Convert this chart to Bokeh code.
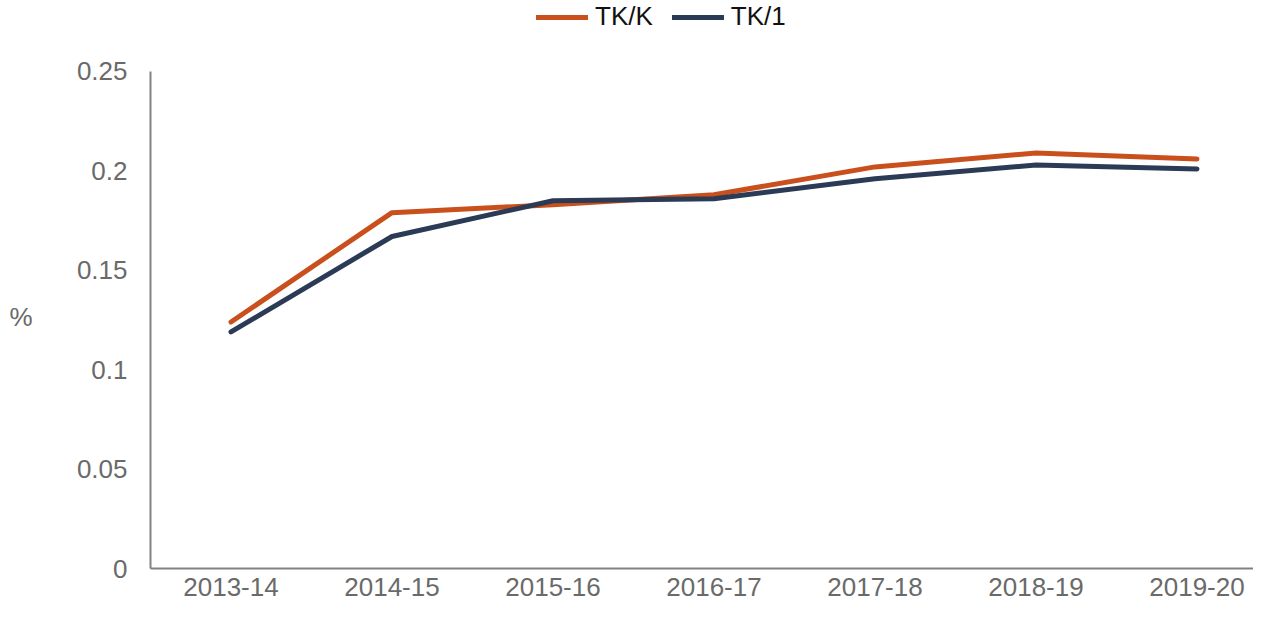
from bokeh.plotting import figure
from bokeh.models import FixedTicker, Legend, LegendItem, LinearAxis
from bokeh.embed import file_html
from bokeh.resources import INLINE

years = ["2013-14", "2014-15", "2015-16", "2016-17", "2017-18", "2018-19", "2019-20"]
tk_k = [0.124, 0.179, 0.183, 0.188, 0.202, 0.209, 0.206]
tk_1 = [0.119, 0.167, 0.185, 0.186, 0.196, 0.203, 0.201]
y_ticks = [0, 0.05, 0.1, 0.15, 0.2, 0.25]
y_tick_labels = ["0", "0.05", "0.1", "0.15", "0.2", "0.25"]
y_unit = "%"

ORANGE = "#C9501C"
NAVY = "#2B3A55"
GREY_TXT = "#6A6A6A"
AXIS = "#828282"
FONT = "Liberation Sans"

xs = list(range(len(years)))

p = figure(width=1253, height=601, output_backend="svg", toolbar_location=None,
           x_range=(-0.5, 6.351), y_range=(0, 0.2857),
           min_border_left=150, min_border_right=0, min_border_top=0, min_border_bottom=33)
p.outline_line_color = None
p.grid.visible = False
p.background_fill_color = "white"
p.border_fill_color = "white"

r1 = p.line(xs, tk_k, line_color=ORANGE, line_width=5, line_cap="round", line_join="round")
r2 = p.line(xs, tk_1, line_color=NAVY, line_width=5, line_cap="round", line_join="round")

# x axis
p.xaxis.ticker = FixedTicker(ticks=xs)
p.xaxis.major_label_overrides = {i: y for i, y in enumerate(years)}
p.xaxis.major_tick_line_color = None
p.xaxis.minor_tick_line_color = None
p.xaxis.axis_line_color = AXIS
p.xaxis.axis_line_width = 2
p.xaxis.major_label_text_font = FONT
p.xaxis.major_label_text_font_size = "26px"
p.xaxis.major_label_text_color = GREY_TXT
p.xaxis.major_label_standoff = 3

# y axis
p.yaxis.ticker = FixedTicker(ticks=y_ticks)
p.yaxis.major_label_overrides = {t: l for t, l in zip(y_ticks, y_tick_labels)}
p.yaxis.major_tick_line_color = None
p.yaxis.minor_tick_line_color = None
p.yaxis.axis_line_color = AXIS
p.yaxis.axis_line_width = 2
p.yaxis.bounds = (0, 0.25)
p.yaxis.major_label_text_font = FONT
p.yaxis.major_label_text_font_size = "26px"
p.yaxis.major_label_text_color = GREY_TXT
p.yaxis.major_label_standoff = 17

# "%" unit, drawn as the single label of an outer, line-less axis
unit_pos = 0.1263
unit_axis = LinearAxis(ticker=FixedTicker(ticks=[unit_pos]),
                       major_label_overrides={unit_pos: y_unit},
                       axis_line_color=None, major_tick_line_color=None,
                       minor_tick_line_color=None, major_label_standoff=35,
                       major_label_text_font=FONT, major_label_text_font_size="26px",
                       major_label_text_color=GREY_TXT)
p.add_layout(unit_axis, "left")

legend = Legend(items=[LegendItem(label="TK/K", renderers=[r1]),
                       LegendItem(label="TK/1", renderers=[r2])],
                orientation="horizontal", location=(386, 536),
                padding=0, margin=0, spacing=19, glyph_width=52, glyph_height=20,
                label_height=20, label_standoff=7,
                label_text_font=FONT, label_text_font_size="26px", label_text_color="#111111",
                border_line_color=None, background_fill_alpha=0)
p.add_layout(legend)

open("out.html", "w").write(file_html(p, INLINE))
